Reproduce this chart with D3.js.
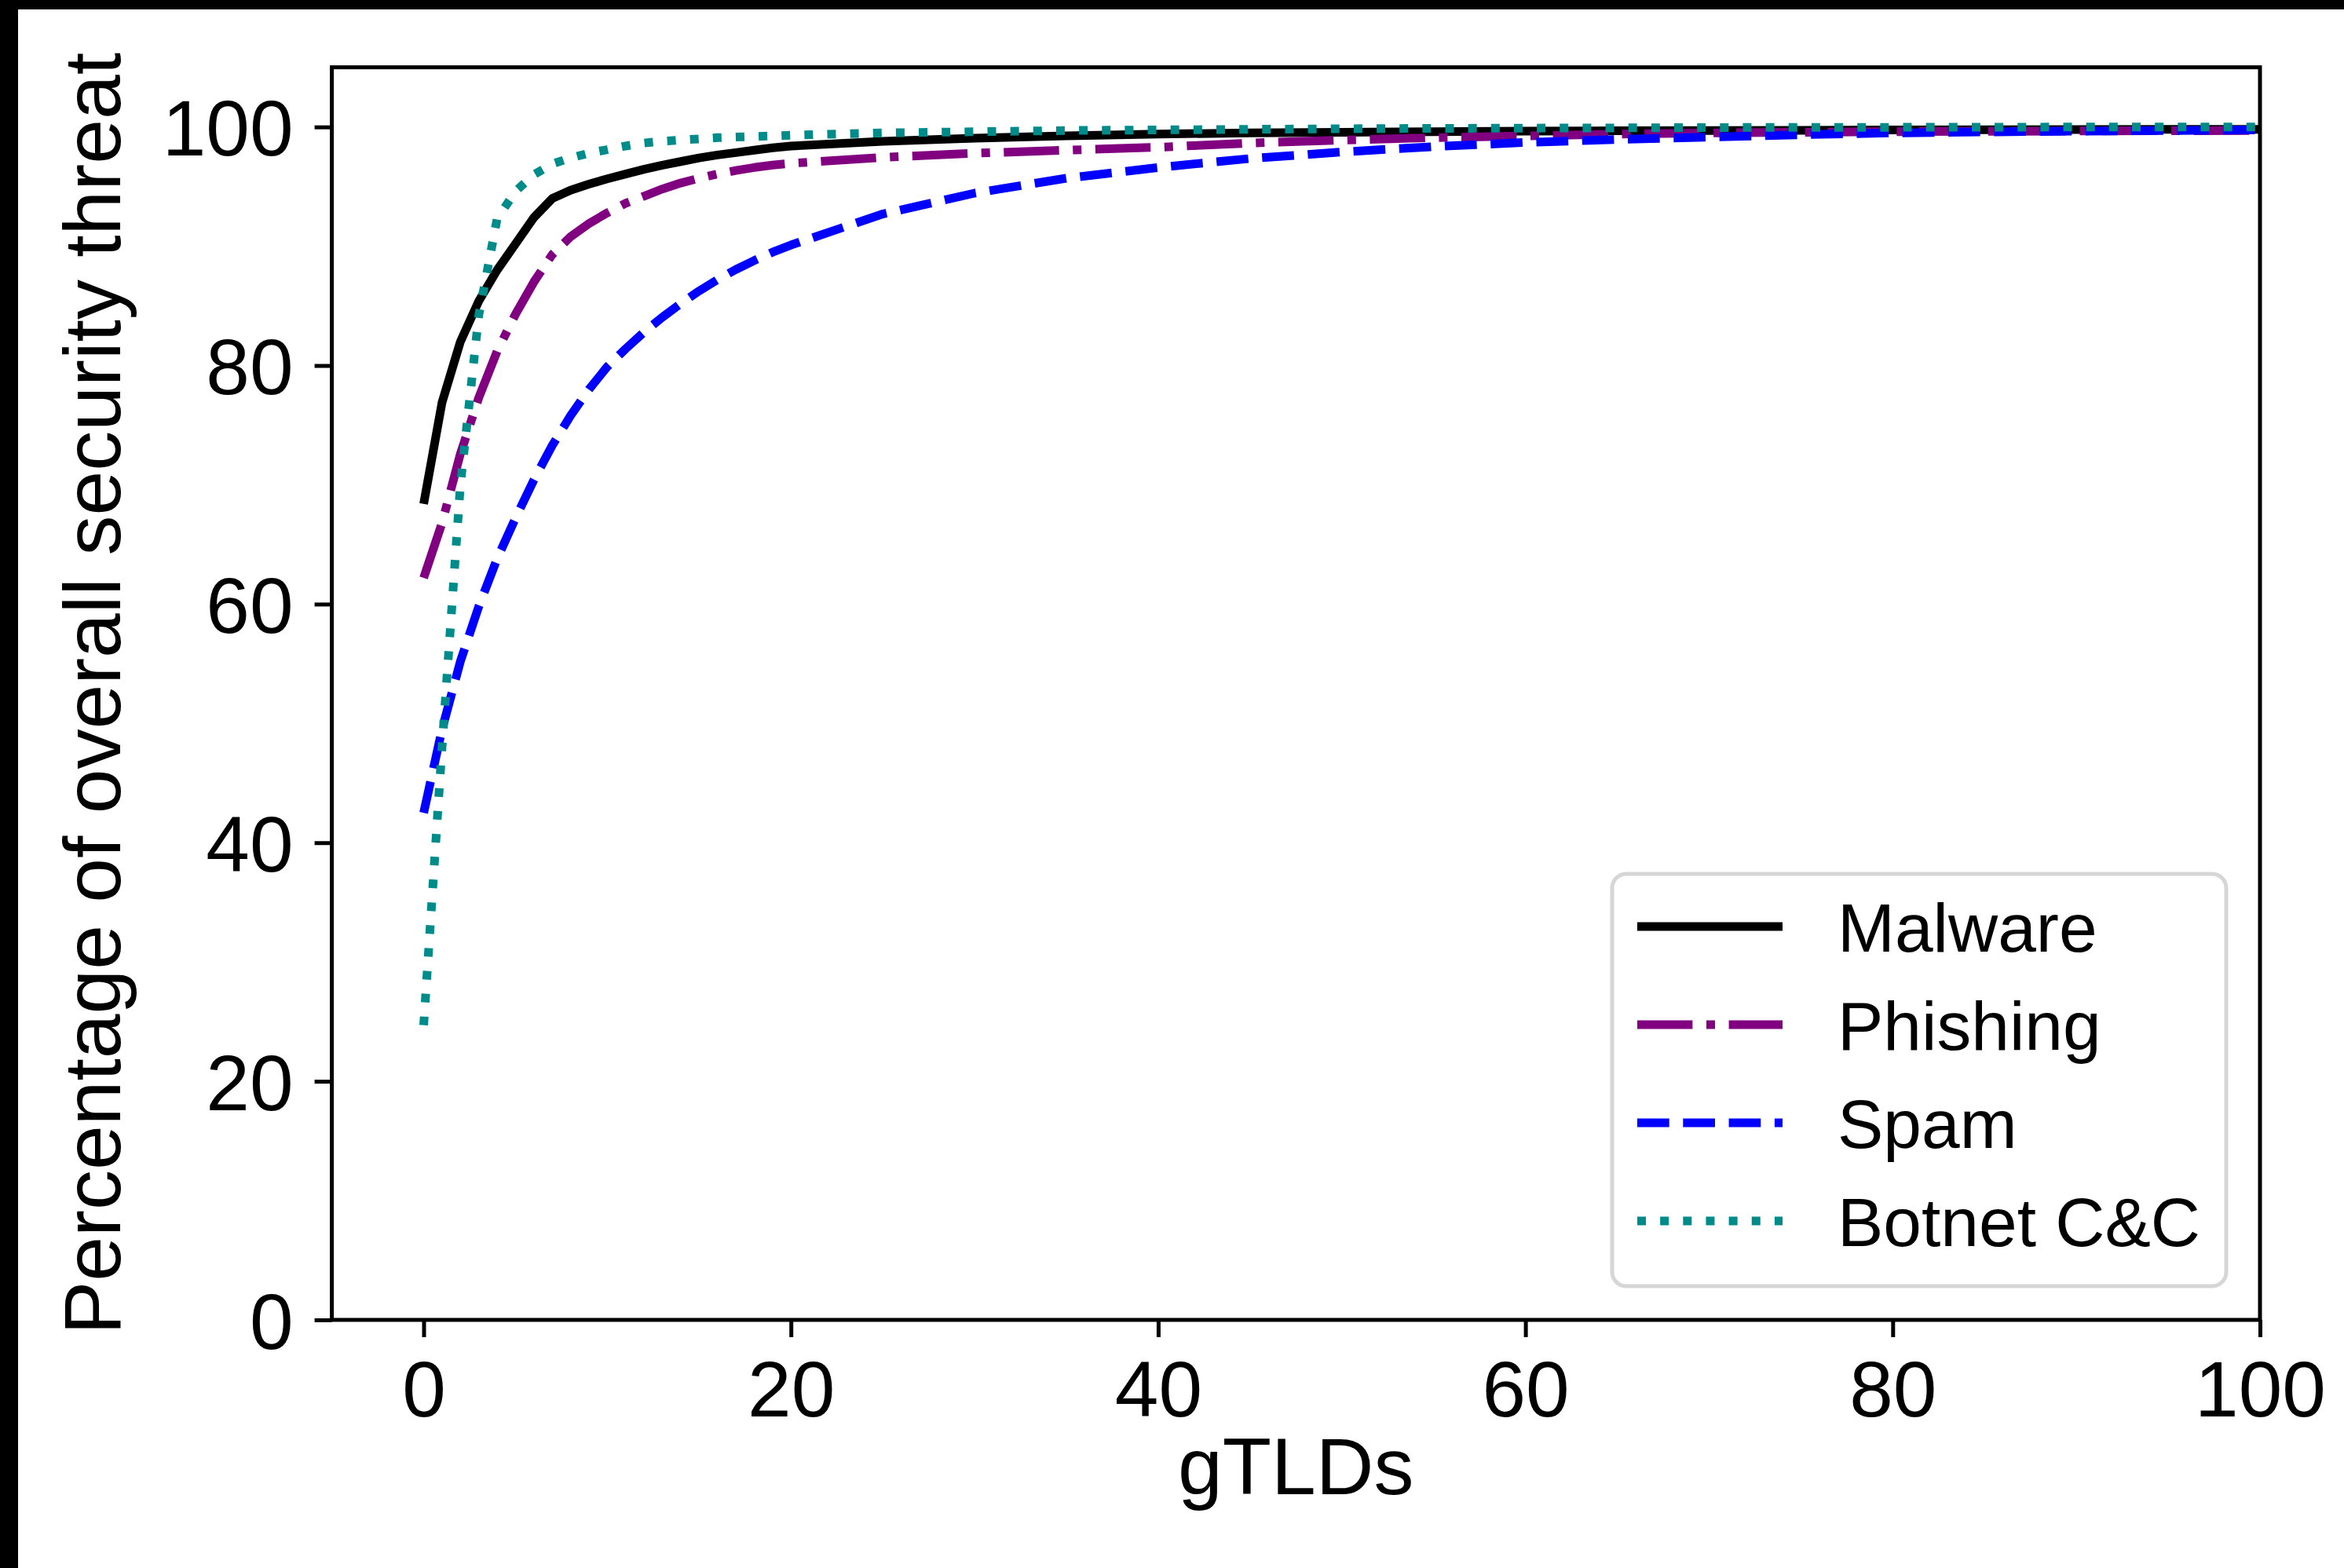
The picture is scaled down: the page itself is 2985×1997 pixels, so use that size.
<!DOCTYPE html>
<html>
<head>
<meta charset="utf-8">
<script src="https://cdn.jsdelivr.net/npm/d3@7"></script>
<style>
  html, body { margin: 0; padding: 0; background: #fff; }
  svg { display: block; }
  text { font-family: "Liberation Sans", Arial, Helvetica, sans-serif; fill: #000; }
</style>
</head>
<body>
<svg id="chart" width="2985" height="1997"></svg>
<script>
// ---------- data ----------
const xValues = [0,1,2,3,4,5,6,7,8,9,10,11,12,13,14,15,16,17,18,19,20,25,30,35,40,45,50,55,60,65,70,75,80,85,90,95,100];
const malware = [68.4,76.9,82.0,85.4,88.0,90.2,92.4,94.0,94.7,95.2,95.65,96.05,96.45,96.8,97.1,97.4,97.65,97.85,98.05,98.25,98.4,98.8,99.05,99.25,99.4,99.5,99.55,99.6,99.65,99.68,99.7,99.72,99.75,99.77,99.78,99.8,99.8];
const phishing = [62.2,66.8,72.6,77.3,81.2,84.3,87.0,89.3,90.8,91.9,92.8,93.6,94.2,94.8,95.3,95.7,96.05,96.35,96.6,96.8,96.95,97.45,97.8,98.05,98.3,98.65,98.9,99.1,99.25,99.4,99.5,99.55,99.6,99.63,99.66,99.68,99.7];
const spam = [42.5,49.5,55.2,59.8,63.8,67.2,70.4,73.3,75.8,78.0,79.9,81.4,82.8,84.05,85.2,86.25,87.2,88.05,88.8,89.5,90.1,92.7,94.45,95.7,96.6,97.35,97.9,98.35,98.7,98.95,99.15,99.35,99.5,99.58,99.65,99.7,99.75];
const botnet = [24.7,48.0,70.0,84.2,92.3,94.6,96.0,96.9,97.4,97.8,98.1,98.4,98.65,98.8,98.9,99.0,99.1,99.15,99.2,99.25,99.3,99.5,99.6,99.7,99.75,99.8,99.85,99.88,99.9,99.92,99.95,99.96,99.97,99.98,99.99,100,100];
const seriesNames = ["Malware","Phishing","Spam","Botnet C&C"];
const xTicks = [0,20,40,60,80,100];
const yTicks = [0,20,40,60,80,100];
const xLabel = "gTLDs";
const yLabel = "Percentage of overall security threat";

// ---------- layout ----------
const W = 2985, H = 1997;
const plot = {left: 422.6, right: 2878, top: 85.7, bottom: 1681};
const LW = 11;
const styles = [
  {color: "#000000", dash: null},
  {color: "#800080", dash: [6.4*LW, 1.6*LW, 1*LW, 1.6*LW]},
  {color: "#0000ff", dash: [3.7*LW, 1.6*LW]},
  {color: "#008b8b", dash: [1*LW, 1.65*LW]}
];
const seriesValues = [malware, phishing, spam, botnet];

const svg = d3.select("#chart");
svg.append("rect").attr("x",0).attr("y",0).attr("width",W).attr("height",H).attr("fill","#fff");
// black frame edges of the original image
svg.append("rect").attr("x",0).attr("y",0).attr("width",W).attr("height",12).attr("fill","#000");
svg.append("rect").attr("x",0).attr("y",0).attr("width",23).attr("height",H).attr("fill","#000");

const x = d3.scaleLinear().domain([-5, 100]).range([plot.left, plot.right]);
const y = d3.scaleLinear().domain([0, 105]).range([plot.bottom, plot.top]);

svg.append("clipPath").attr("id","clip").append("rect")
  .attr("x", plot.left).attr("y", plot.top)
  .attr("width", plot.right - plot.left).attr("height", plot.bottom - plot.top);

const line = d3.line().x((d,i)=>x(xValues[i])).y(d=>y(d));

const gLines = svg.append("g").attr("clip-path","url(#clip)");
seriesValues.forEach((vals, k) => {
  const p = gLines.append("path")
    .attr("d", line(vals))
    .attr("fill","none")
    .attr("stroke", styles[k].color)
    .attr("stroke-width", LW)
    .attr("stroke-linejoin","round")
    .attr("stroke-linecap","butt");
  if (styles[k].dash) p.attr("stroke-dasharray", styles[k].dash.join(","));
});

// axes
const FS = 100, LABEL_FS = 102;
const tickLen = 22, spineW = 5;
const xAxis = d3.axisBottom(x).tickValues(xTicks).tickSize(tickLen).tickPadding(30).tickFormat(d3.format("d"));
const yAxis = d3.axisLeft(y).tickValues(yTicks).tickSize(tickLen).tickPadding(27).tickFormat(d3.format("d"));

const gx = svg.append("g").attr("transform", `translate(0,${plot.bottom})`).call(xAxis);
const gy = svg.append("g").attr("transform", `translate(${plot.left},0)`).call(yAxis);
[gx, gy].forEach(g => {
  g.select(".domain").remove();
  g.selectAll(".tick line").attr("stroke","#000").attr("stroke-width",spineW);
  g.selectAll(".tick text").attr("font-size", FS).attr("fill","#000")
    .attr("font-family", '"Liberation Sans", Arial, sans-serif');
});
gy.selectAll(".tick text").attr("dy", "0.36em");
gx.selectAll(".tick text").attr("dy", "0.71em");

// spines
svg.append("rect")
  .attr("x", plot.left).attr("y", plot.top)
  .attr("width", plot.right - plot.left).attr("height", plot.bottom - plot.top)
  .attr("fill","none").attr("stroke","#000").attr("stroke-width", spineW)
  .attr("stroke-linejoin","miter");

// axis labels
svg.append("text")
  .attr("x", (plot.left + plot.right)/2).attr("y", 1903)
  .attr("text-anchor","middle").attr("font-size", LABEL_FS).text(xLabel);
svg.append("text")
  .attr("transform", `translate(153,${(plot.top + plot.bottom)/2}) rotate(-90)`)
  .attr("text-anchor","middle").attr("font-size", LABEL_FS).text(yLabel);

// legend
const LFS = 87.5;
const leg = {x: 2053, y: 1113, w: 782, h: 525};
svg.append("rect")
  .attr("x", leg.x).attr("y", leg.y).attr("width", leg.w).attr("height", leg.h)
  .attr("rx", 18).attr("ry", 18)
  .attr("fill","#fff").attr("stroke","#d6d6d6").attr("stroke-width", 5);
const rowY = [1180, 1305, 1430, 1555];
seriesNames.forEach((name, k) => {
  const l = svg.append("line")
    .attr("x1", 2085).attr("x2", 2270)
    .attr("y1", rowY[k]).attr("y2", rowY[k])
    .attr("stroke", styles[k].color).attr("stroke-width", LW)
    .attr("stroke-linecap","butt");
  if (styles[k].dash) l.attr("stroke-dasharray", styles[k].dash.join(","));
  svg.append("text")
    .attr("x", 2340).attr("y", rowY[k]).attr("dy","0.36em")
    .attr("font-size", LFS).text(name);
});
</script>
</body>
</html>
